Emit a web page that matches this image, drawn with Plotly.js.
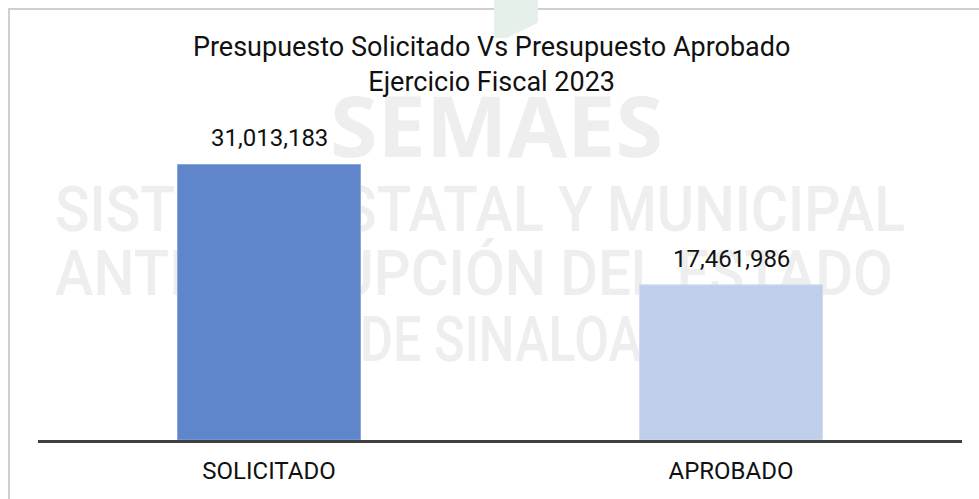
<!DOCTYPE html>
<html>
<head>
<meta charset="utf-8">
<script src="https://cdn.plot.ly/plotly-3.0.1.min.js"></script>
<style>
  html, body { margin: 0; padding: 0; background: #ffffff; }
  #wrap { position: relative; width: 979px; height: 499px; overflow: hidden; background: #ffffff; }
  #frame { position: absolute; left: 8px; top: 8px; width: 990px; height: 520px; border-left: 2px solid #cfcfcf; border-top: 2px solid #cfcfcf; box-sizing: border-box; }
  #leaf { position: absolute; left: 494px; top: 0; width: 44px; height: 38px; background: #e6f0ea; clip-path: polygon(0 0, 100% 0, 100% 60%, 30% 100%, 0 100%); }
  .wm { position: absolute; color: #eeeeee; white-space: nowrap; line-height: 1; transform-origin: 0 0; }
  #wm0 { font-family: "Open Sans", sans-serif; font-weight: 700; font-size: 84px; }
  .wmline { font-family: Roboto, sans-serif; font-weight: 500; font-size: 63px; }
  #plot { position: absolute; left: 0; top: 0; width: 979px; height: 499px; }
</style>
</head>
<body>
<div id="wrap">
  <div id="frame"></div>
  <div id="leaf"></div>
  <div class="wm" id="wm0">SEMAES</div>
  <div class="wm wmline" id="wm1">SISTEMA ESTATAL Y MUNICIPAL</div>
  <div class="wm wmline" id="wm2">ANTICORRUPCIÓN DEL ESTADO</div>
  <div class="wm wmline" id="wm3">DE SINALOA</div>
  <div id="plot"></div>
</div>
<script>
const categories = ["SOLICITADO", "APROBADO"];
const values = [31013183, 17461986];
const valueLabels = ["31,013,183", "17,461,986"];
const barColors = ["#5f86cb", "#bfcfe9"];
const barEdges = ["#89a6dc", "#cfdcf0"];
const titleText = "Presupuesto Solicitado Vs Presupuesto Aprobado<br>Ejercicio Fiscal 2023";

// fit watermark lines to their measured spans
function fit(id, left, top, width) {
  const el = document.getElementById(id);
  el.style.left = left + "px";
  el.style.top = top + "px";
  const w = el.getBoundingClientRect().width;
  el.style.transform = "scaleX(" + (width / w) + ")";
}
fit("wm0", 330, 83, 333);
fit("wm1", 55, 178, 850);
fit("wm2", 55, 242, 838);
fit("wm3", 360, 308, 282);

const trace = {
  type: "bar",
  x: categories,
  y: values,
  marker: { color: barColors, line: { color: barEdges, width: 1 } },
  hoverinfo: "skip"
};

const annotations = categories.map((c, i) => ({
  x: c, y: values[i], xref: "x", yref: "y",
  text: valueLabels[i], showarrow: false,
  yanchor: "bottom", yshift: 10,
  font: { family: "Roboto, sans-serif", size: 24, color: "#111111" }
}));

const layout = {
  width: 979, height: 499,
  margin: { l: 38, r: 17, t: 100, b: 59 },
  paper_bgcolor: "rgba(0,0,0,0)",
  plot_bgcolor: "rgba(0,0,0,0)",
  title: {
    text: titleText,
    font: { family: "Roboto, sans-serif", size: 27, color: "#111111" },
    x: 0.491, xref: "paper", xanchor: "center",
    y: 1 - 56 / 499, yref: "container", yanchor: "top"
  },
  showlegend: false,
  bargap: 0.604,
  xaxis: {
    showline: true, linecolor: "#404040", linewidth: 3,
    ticks: "outside", ticklen: 7, tickcolor: "rgba(0,0,0,0)",
    tickfont: { family: "Roboto, sans-serif", size: 24, color: "#111111" },
    showgrid: false, zeroline: false, fixedrange: true
  },
  yaxis: {
    range: [0, 38270000], visible: false, showgrid: false, zeroline: false, fixedrange: true
  },
  annotations: annotations
};

Plotly.newPlot("plot", [trace], layout, { displayModeBar: false, staticPlot: true });
</script>
</body>
</html>
